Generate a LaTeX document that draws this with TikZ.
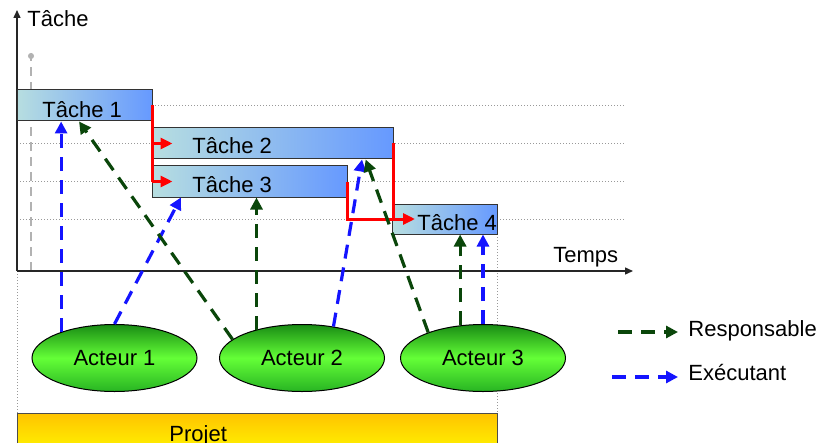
\documentclass[tikz,border=0pt]{standalone}
\usepackage{fontspec}
\setmainfont{Liberation Sans}
\usepackage{xcolor}
\usepackage{tikz}
\usetikzlibrary{calc}
\usetikzlibrary{arrows.meta}
\usetikzlibrary{shapes.geometric}

\definecolor{taskleft}{RGB}{183,222,224}
\definecolor{taskright}{RGB}{102,153,255}
\definecolor{respgreen}{RGB}{10,70,10}
\definecolor{execblue}{RGB}{20,20,255}
\definecolor{actortop}{RGB}{25,140,20}
\definecolor{actormid}{RGB}{100,255,55}
\definecolor{actorbot}{RGB}{40,180,35}
\definecolor{projtop}{RGB}{255,195,0}
\definecolor{projbot}{RGB}{255,255,0}

\tikzset{
  taskbox/.style={draw=black!80, line width=0.5pt, left color=taskleft, right color=taskright, inner sep=0pt},
  actor/.style={ellipse, draw=black, line width=0.5pt, top color=actortop, bottom color=actorbot, middle color=actormid, minimum width=82.5pt, minimum height=33.5pt, inner sep=0pt},
  projbox/.style={draw=black!70, line width=0.5pt, top color=projtop, bottom color=projbot, inner sep=0pt},
  txt/.style={inner sep=0pt, anchor=base west},
  gridline/.style={gray!80, line width=0.5pt, dash pattern=on 0.5pt off 1pt},
  axisline/.style={black!85, line width=0.7pt, -{Triangle[length=4pt,width=3.5pt]}},
  precline/.style={red, line width=1.5pt},
  prec/.style={precline, -{Triangle[length=6pt,width=5.5pt]}},
  resp/.style={respgreen, line width=1.6pt, dash pattern=on 7pt off 4.5pt, -{Triangle[length=6pt,width=6pt]}},
  exec/.style={execblue, line width=1.6pt, dash pattern=on 7pt off 4.5pt, -{Triangle[length=6pt,width=6pt]}},
}

\begin{document}
\begin{tikzpicture}[x=0.5pt, y=-0.5pt]
            \clip (0,0) rectangle (822,443);
            {\fontsize{11}{13}\selectfont

            % Drawing grid lines
            \foreach \gy in {106,144,181.5,219}
              \draw [gridline] (17,\gy) -- (625,\gy);%
            \draw [gridline] (17,271) -- (17,413);%
            \draw [gridline] (497.5,234) -- (497.5,413);%

            % Drawing today marker
            \draw [gray!60, line width=0.7pt, dash pattern=on 4.5pt off 3pt, -{Circle[length=3pt]}] (31,271) -- (31,53);%

            % Drawing axes
            \draw [axisline] (17,271) -- (17,10);%
            \draw [axisline] (17,271) -- (633,271);%
            \node [txt] (ylab) at (27,27) {Tâche};%
            \node [txt] (xlab) at (553,262) {Temps};%

            % Drawing tasks
            \node [taskbox, minimum width=67.5pt, minimum height=15.5pt] (t1) at (84.5,105.5) {};%
            \node [taskbox, minimum width=120.5pt, minimum height=15.5pt] (t2) at (272.5,143.5) {};%
            \node [taskbox, minimum width=97.5pt, minimum height=15.5pt] (t3) at (249.5,181.5) {};%
            \node [taskbox, minimum width=52.5pt, minimum height=15pt] (t4) at (445,219) {};%
            \node [txt] (t1txt) at (42,118) {Tâche 1};%
            \node [txt] (t2txt) at (192,154) {Tâche 2};%
            \node [txt] (t3txt) at (192,192) {Tâche 3};%
            \node [txt] (t4txt) at (417,230) {Tâche 4};%

            % Drawing precedence links
            \draw [precline] (t1.east) -- (t1.east |- t3.west);%
            \draw [prec] (t2.west) -- ([xshift=10.5pt]t2.west);%
            \draw [prec] (t3.west) -- ([xshift=10.5pt]t3.west);%
            \draw [precline] (t3.east) -- (t3.east |- t4.west) -- (t4.west);%
            \draw [prec] (t2.east) -- (t2.east |- t4.west) -- ([xshift=11.5pt]t4.west);%

            % Drawing actors
            \node [actor] (a1) at (114.5,358) {Acteur 1};%
            \node [actor] (a2) at (302,358) {Acteur 2};%
            \node [actor] (a3) at (483,358) {Acteur 3};%

            % Drawing project bar
            \node [projbox, minimum width=240pt, minimum height=23.5pt] (proj) at (257,436.5) {};%
            \node [txt] (projtxt) at (169,441) {Projet};%

            % Drawing executor links
            \draw [exec] (a1.154) -- (a1.154 |- t1.south);%
            \draw [exec] (a1.north) -- ($(t3.south west)!0.15!(t3.south east)$);%
            \draw [exec] (a2.45) -- ($(t2.south west)!0.87!(t2.south east)$);%
            \draw [exec] (a3.north) -- (a3.north |- t4.south);%

            % Drawing responsible links
            \draw [resp] (a2.165) -- ($(t1.south west)!0.46!(t1.south east)$);%
            \draw [resp] (a2.148) -- (a2.148 |- t3.south);%
            \draw [resp] (a3.155) -- ($(t2.south west)!0.885!(t2.south east)$);%
            \draw [resp] (a3.125) -- (a3.125 |- t4.south);%

            % Drawing legend
            \coordinate (legresp) at (618,332);%
            \coordinate (legexec) at (612,377);%
            \node [anchor=west, inner xsep=5pt, inner ysep=0pt] (legresptxt) at (678,331) {Responsable};%
            \node [anchor=west, inner xsep=5pt, inner ysep=0pt] (legexectxt) at (678,373) {Exécutant};%
            \draw [resp] (legresp) -- (legresp -| legresptxt.west);%
            \draw [exec] (legexec) -- (legexec -| legexectxt.west);%
            }
\end{tikzpicture}
\end{document}
